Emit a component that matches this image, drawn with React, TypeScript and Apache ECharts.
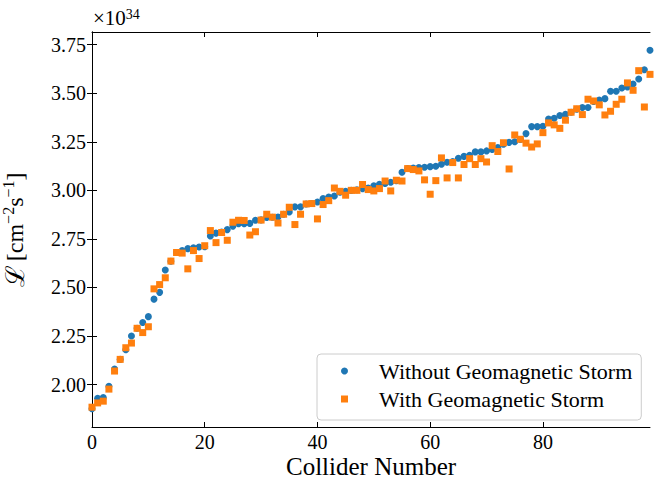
import React, { useEffect, useRef } from 'react';
import * as echarts from 'echarts';

// Luminosity values in units of 1e34 cm^-2 s^-1
const withoutStorm = [
  1.876, 1.93, 1.934, 1.992, 2.08, 2.13, 2.18, 2.25, 2.29, 2.32,
  2.35, 2.44, 2.475, 2.59, 2.635, 2.68, 2.69, 2.7, 2.705, 2.708,
  2.71, 2.765, 2.78, 2.785, 2.798, 2.816, 2.828, 2.828, 2.83, 2.846,
  2.848, 2.86, 2.862, 2.863, 2.877, 2.889, 2.915, 2.915, 2.93, 2.932,
  2.94, 2.958, 2.966, 2.971, 2.99, 2.995, 3.0, 3.003, 3.009, 3.012,
  3.023, 3.031, 3.035, 3.042, 3.05, 3.093, 3.112, 3.115, 3.117, 3.119,
  3.122, 3.124, 3.134, 3.145, 3.148, 3.165, 3.175, 3.18, 3.198, 3.198,
  3.203, 3.211, 3.22, 3.237, 3.247, 3.25, 3.262, 3.292, 3.328, 3.328,
  3.33, 3.367, 3.371, 3.385, 3.391, 3.402, 3.417, 3.426, 3.426, 3.457,
  3.465, 3.472, 3.51, 3.51, 3.527, 3.532, 3.547, 3.573, 3.621, 3.721,
];

const withStorm = [
  1.884, 1.906, 1.915, 1.977, 2.07, 2.13, 2.19, 2.214, 2.29, 2.268,
  2.298, 2.493, 2.515, 2.55, 2.636, 2.68, 2.677, 2.596, 2.69, 2.649,
  2.715, 2.793, 2.731, 2.783, 2.743, 2.836, 2.846, 2.845, 2.77, 2.787,
  2.847, 2.877, 2.862, 2.832, 2.877, 2.913, 2.824, 2.877, 2.93, 2.932,
  2.853, 2.927, 2.947, 3.012, 2.995, 2.975, 3.0, 3.0, 3.03, 3.004,
  2.997, 3.009, 3.048, 2.997, 3.052, 3.048, 3.112, 3.107, 3.1, 3.054,
  2.98, 3.05, 3.167, 3.064, 3.143, 3.064, 3.133, 3.163, 3.133, 3.163,
  3.146, 3.23, 3.2, 3.245, 3.11, 3.285, 3.263, 3.243, 3.223, 3.239,
  3.297, 3.347, 3.337, 3.319, 3.361, 3.402, 3.42, 3.39, 3.469, 3.46,
  3.44, 3.388, 3.407, 3.443, 3.469, 3.553, 3.515, 3.616, 3.429, 3.597,
];

const colliderNumbers = withoutStorm.map((_, i) => i);
const xTicks = [0, 20, 40, 60, 80];
const yTicks = [2.0, 2.25, 2.5, 2.75, 3.0, 3.25, 3.5, 3.75];
const seriesNames = ['Without Geomagnetic Storm', 'With Geomagnetic Storm'];
const xTitle = 'Collider Number';

const FONT = 'Liberation Serif';

export default function App() {
  const ref = useRef<HTMLDivElement>(null);

  useEffect(() => {
    const chart = echarts.init(ref.current!, null, { renderer: 'svg' });
    const line = { show: true, lineStyle: { color: '#000', width: 1 } };
    const tickX = { show: true, inside: true, length: 5, customValues: xTicks, lineStyle: { color: '#000', width: 1 } };
    const tickY = { show: true, inside: true, length: 5, customValues: yTicks, lineStyle: { color: '#000', width: 1 } };

    chart.setOption({
      animation: false,
      backgroundColor: '#fff',
      grid: { left: 92, right: 12, top: 32, bottom: 51, containLabel: false, outerBoundsMode: 'none' },
      xAxis: [
        {
          type: 'value', position: 'bottom', min: 0, max: 99,
          axisLine: line, axisTick: tickX, splitLine: { show: false },
          axisLabel: {
            customValues: xTicks, fontFamily: FONT, fontSize: 20, lineHeight: 20, color: '#000', margin: 5,
            formatter: (v: number) => String(v),
          },
        },
        {
          type: 'value', position: 'top', min: 0, max: 99,
          axisLine: line, axisTick: tickX, splitLine: { show: false }, axisLabel: { show: false },
        },
      ],
      yAxis: [
        {
          type: 'value', position: 'left', min: 1.782, max: 3.815,
          axisLine: line, axisTick: tickY, splitLine: { show: false },
          axisLabel: {
            customValues: yTicks, fontFamily: FONT, fontSize: 20, color: '#000', margin: 6,
            formatter: (v: number) => v.toFixed(2),
          },
          name: '{l|ℒ} {t|[cm}{s|−2}{t|s}{s|−1}{t|]}',
          nameLocation: 'middle', nameGap: 62, nameRotate: 90,
          nameTextStyle: {
            color: '#000',
            rich: {
              l: { fontFamily: 'DejaVu Serif', fontSize: 26, color: '#000', lineHeight: 30 },
              t: { fontFamily: FONT, fontSize: 24, color: '#000', lineHeight: 30 },
              s: { fontFamily: FONT, fontSize: 16, color: '#000', verticalAlign: 'top', lineHeight: 30 },
            },
          },
        },
        {
          type: 'value', position: 'right', min: 1.782, max: 3.815,
          axisLine: line, axisTick: tickY, splitLine: { show: false }, axisLabel: { show: false },
        },
      ],
      legend: {
        orient: 'vertical', left: 317, top: 354,
        data: [
          { name: seriesNames[0], icon: 'circle' },
          { name: seriesNames[1], icon: 'rect' },
        ],
        itemWidth: 7, itemHeight: 7, itemGap: 4,
        padding: [5, 9, 9, 24],
        borderColor: '#ccc', borderWidth: 1, borderRadius: 4,
        backgroundColor: 'rgba(255,255,255,0.8)',
        itemStyle: { opacity: 1 },
        textStyle: { fontFamily: FONT, fontSize: 22, color: '#000', padding: [0, 0, 0, 26], lineHeight: 24 },
      },
      graphic: [
        {
          type: 'text', left: 93, top: 7,
          style: {
            text: '{a|×10}{s|34}',
            rich: {
              a: { fontFamily: FONT, fontSize: 21, fill: '#000', lineHeight: 22 },
              s: { fontFamily: FONT, fontSize: 14, fill: '#000', verticalAlign: 'top', lineHeight: 22 },
            },
          },
        },
        {
          type: 'text', x: 371, y: 466,
          style: {
            text: xTitle, fontFamily: FONT, fontSize: 25, lineHeight: 24, fill: '#000',
            align: 'center', verticalAlign: 'middle',
          },
        },
      ],
      series: [
        {
          name: seriesNames[0], type: 'scatter', xAxisIndex: 0, yAxisIndex: 0,
          symbol: 'circle', symbolSize: 7, itemStyle: { color: '#1f77b4', opacity: 1 },
          data: colliderNumbers.map((x, i) => [x, withoutStorm[i]]),
        },
        {
          name: seriesNames[1], type: 'scatter', xAxisIndex: 0, yAxisIndex: 0,
          symbol: 'rect', symbolSize: 7, itemStyle: { color: '#ff7f0e', opacity: 1 },
          data: colliderNumbers.map((x, i) => [x, withStorm[i]]),
        },
      ],
    });
    return () => chart.dispose();
  }, []);

  return <div ref={ref} style={{ position: 'fixed', left: 0, top: 0, width: 662, height: 478 }} />;
}
